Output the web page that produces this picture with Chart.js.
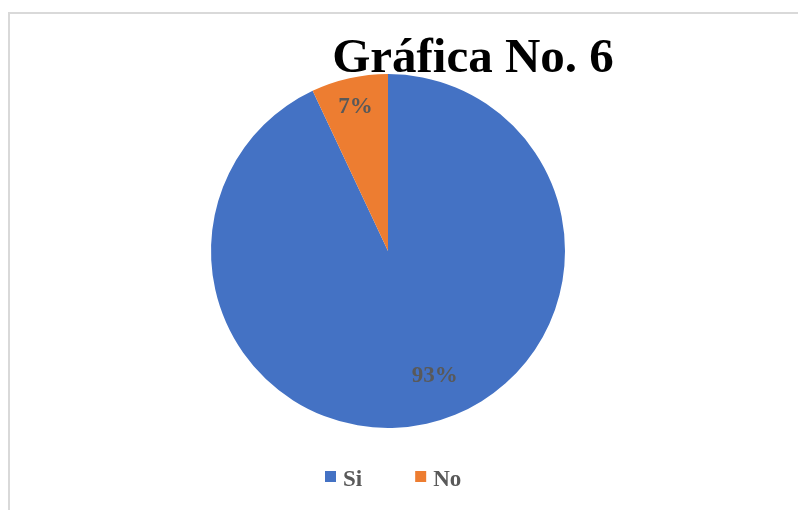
<!DOCTYPE html>
<html>
<head>
<meta charset="utf-8">
<script src="https://cdn.jsdelivr.net/npm/chart.js@4.4.1/dist/chart.umd.min.js"></script>
<style>
  html, body { margin: 0; padding: 0; background: #ffffff; }
  #wrap { position: relative; width: 798px; height: 510px; }
  #frame { position: absolute; left: 8px; top: 12px; width: 800px; height: 510px; border-left: 2px solid #d9d9d9; border-top: 2px solid #d9d9d9; box-sizing: border-box; }
  canvas { position: absolute; left: 0; top: 0; }
</style>
</head>
<body>
<div id="wrap">
  <div id="frame"></div>
  <canvas id="c" width="798" height="510"></canvas>
</div>
<script>
const titleText = "Gráfica No. 6";
const categories = ["Si", "No"];
const values = [93, 7];
const sliceColors = ["#4472C4", "#ED7D31"];

const SERIF = '"Liberation Serif", "Times New Roman", "DejaVu Serif", serif';

const overlay = {
  id: 'overlay',
  afterDatasetsDraw(chart) {
    const ctx = chart.ctx;
    const meta = chart.getDatasetMeta(0);
    const total = values.reduce((a, b) => a + b, 0);
    // data labels
    const labelOpts = [ { frac: 0.75, shift: -0.14 }, { frac: 0.84, shift: 0 } ];
    ctx.save();
    ctx.font = 'bold 23px ' + SERIF;
    ctx.fillStyle = '#595959';
    ctx.textAlign = 'center';
    ctx.textBaseline = 'middle';
    meta.data.forEach((arc, i) => {
      const p = arc.getProps(['x', 'y', 'startAngle', 'endAngle', 'outerRadius']);
      const mid = (p.startAngle + p.endAngle) / 2 + labelOpts[i].shift;
      const r = p.outerRadius * labelOpts[i].frac;
      const pct = Math.round(values[i] / total * 100) + '%';
      ctx.fillText(pct, p.x + Math.cos(mid) * r, p.y + Math.sin(mid) * r + 1);
    });
    ctx.restore();

    // title
    ctx.save();
    ctx.font = 'bold 49px ' + SERIF;
    ctx.fillStyle = '#000000';
    ctx.textAlign = 'center';
    ctx.textBaseline = 'alphabetic';
    ctx.fillText(titleText, 473, 72);
    ctx.restore();

    // legend
    ctx.save();
    ctx.font = 'bold 23px ' + SERIF;
    ctx.textBaseline = 'alphabetic';
    ctx.textAlign = 'left';
    let x = 325;
    const box = 11, gapText = 7, gapItem = 53;
    categories.forEach((cat, i) => {
      ctx.fillStyle = sliceColors[i];
      ctx.fillRect(x, 471, box, box);
      ctx.fillStyle = '#595959';
      ctx.fillText(cat, x + box + gapText, 486);
      x += box + gapText + ctx.measureText(cat).width + gapItem;
    });
    ctx.restore();
  }
};

new Chart(document.getElementById('c'), {
  type: 'pie',
  data: {
    labels: categories,
    datasets: [{
      data: values,
      backgroundColor: sliceColors,
      borderWidth: 0
    }]
  },
  options: {
    responsive: false,
    animation: false,
    rotation: 0,
    layout: { padding: { left: 211, right: 233, top: 74, bottom: 82 } },
    plugins: {
      legend: { display: false },
      title: { display: false },
      tooltip: { enabled: false }
    }
  },
  plugins: [overlay]
});
</script>
</body>
</html>
